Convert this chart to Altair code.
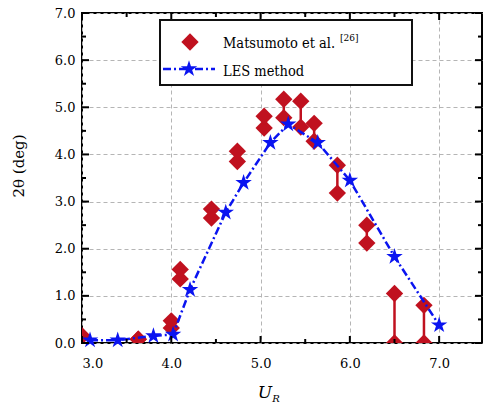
import altair as alt
import pandas as pd

# ---------------- data ----------------
# Matsumoto et al. (experiment): low / high amplitude at each reduced velocity
mat_ur = [3.0, 3.63, 4.0, 4.1, 4.45, 4.74, 5.04, 5.26, 5.45, 5.6, 5.86, 6.19, 6.5, 6.83]
mat_low = [0.15, 0.08, 0.32, 1.36, 2.65, 3.85, 4.56, 4.78, 4.58, 4.28, 3.18, 2.12, 0.0, 0.0]
mat_high = [0.15, 0.08, 0.47, 1.56, 2.84, 4.07, 4.81, 5.17, 5.13, 4.66, 3.77, 2.5, 1.05, 0.8]

# LES method
les_ur = [3.09, 3.4, 3.8, 4.02, 4.21, 4.61, 4.81, 5.11, 5.31, 5.64, 6.0, 6.5, 7.0]
les_amp = [0.06, 0.06, 0.15, 0.18, 1.13, 2.77, 3.4, 4.25, 4.64, 4.25, 3.45, 1.83, 0.38]

x_major = [3.0, 4.0, 5.0, 6.0, 7.0]
x_minor = [3.5, 4.5, 5.5, 6.5]
y_major = [0.0, 1.0, 2.0, 3.0, 4.0, 5.0, 6.0, 7.0]
y_minor = [0.5, 1.5, 2.5, 3.5, 4.5, 5.5, 6.5]

legend_mat = "Matsumoto et al."
legend_ref = "[26]"
legend_les = "LES method"
y_title = "2θ (deg)"
x_title_main = "U"
x_title_sub = "R"

# ---------------- styling ----------------
W, H = 400, 330
RED = "#C0111F"
BLUE = "#0A14F0"
FONT = "DejaVu Serif"
FONT_COND = "DejaVu Serif Condensed"
STAR = ("M0,-1L0.225,-0.309L0.951,-0.309L0.363,0.118L0.588,0.809L0,0.382"
        "L-0.588,0.809L-0.363,0.118L-0.951,-0.309L-0.225,-0.309Z")

mat_df = pd.DataFrame({"ur": mat_ur, "low": mat_low, "high": mat_high})
mat_long = pd.DataFrame({"ur": mat_ur + mat_ur, "amp": mat_low + mat_high})
les_df = pd.DataFrame({"ur": les_ur, "amp": les_amp})
one = pd.DataFrame({"k": [0]})

XS = alt.Scale(domain=[3.0, 7.48], nice=False, zero=False)
YS = alt.Scale(domain=[0.0, 7.0], nice=False, zero=False)

ax_x = alt.Axis(values=x_major, format=".1f", ticks=False, domain=False, grid=True,
                gridDash=[4, 3], gridColor="#b5b5b5", gridWidth=1,
                labelFont=FONT, labelFontSize=13, labelColor="black", labelPadding=14, title=None)
ax_y = alt.Axis(values=y_major, format=".1f", ticks=False, domain=False, grid=True,
                gridDash=[4, 3], gridColor="#b5b5b5", gridWidth=1,
                labelFont=FONT, labelFontSize=13, labelColor="black", labelPadding=7, title=None)

rules = alt.Chart(mat_df).mark_rule(color=RED, strokeWidth=2.5, clip=True).encode(
    x=alt.X("ur:Q", scale=XS, axis=ax_x),
    y=alt.Y("low:Q", scale=YS, axis=ax_y),
    y2="high:Q",
)

diamonds = alt.Chart(mat_long).mark_point(shape="diamond", filled=True, size=300, color=RED,
                                          opacity=1, clip=True).encode(
    x=alt.X("ur:Q", scale=XS),
    y=alt.Y("amp:Q", scale=YS),
)

line = alt.Chart(les_df).mark_line(color=BLUE, strokeWidth=2.5, strokeDash=[8, 3, 2, 3]).encode(
    x=alt.X("ur:Q", scale=XS),
    y=alt.Y("amp:Q", scale=YS),
)

stars = alt.Chart(les_df).mark_point(shape=STAR, filled=True, size=300, color=BLUE, opacity=1).encode(
    x=alt.X("ur:Q", scale=XS),
    y=alt.Y("amp:Q", scale=YS),
)

# ---------------- inward ticks on all four sides ----------------
def xticks(vals, p0, p1):
    return alt.Chart(pd.DataFrame({"v": vals})).mark_rule(color="black", strokeWidth=2).encode(
        x=alt.X("v:Q", scale=XS), y=alt.value(p0), y2=alt.value(p1))

def yticks(vals, p0, p1):
    return alt.Chart(pd.DataFrame({"v": vals})).mark_rule(color="black", strokeWidth=2).encode(
        y=alt.Y("v:Q", scale=YS), x=alt.value(p0), x2=alt.value(p1))

tick_layers = [
    xticks(x_major, H, H - 7), xticks(x_minor, H, H - 4),
    xticks(x_major, 0, 7), xticks(x_minor, 0, 4),
    yticks(y_major, 0, 7), yticks(y_minor, 0, 4),
    yticks(y_major, W, W - 7), yticks(y_minor, W, W - 4),
]

# ---------------- legend (drawn by hand for the superscript) ----------------
leg_box = alt.Chart(one).mark_rect(fill="white", stroke="#111111", strokeWidth=2).encode(
    x=alt.value(78), x2=alt.value(330), y=alt.value(7), y2=alt.value(72))
leg_dia = alt.Chart(one).mark_point(shape="diamond", filled=True, size=300, color=RED, opacity=1).encode(
    x=alt.value(108), y=alt.value(29))
leg_line = alt.Chart(one).mark_rule(color=BLUE, strokeWidth=2.5, strokeDash=[8, 3, 2, 3]).encode(
    x=alt.value(81), x2=alt.value(133), y=alt.value(56))
leg_star = alt.Chart(one).mark_point(shape=STAR, filled=True, size=300, color=BLUE, opacity=1).encode(
    x=alt.value(107), y=alt.value(56))
leg_t1 = alt.Chart(one).mark_text(text=legend_mat, font=FONT_COND, fontSize=14.5, align="left",
                                  baseline="alphabetic", color="black").encode(
    x=alt.value(141), y=alt.value(35))
leg_t1s = alt.Chart(one).mark_text(text=legend_ref, font=FONT_COND, fontSize=10, align="left",
                                   baseline="alphabetic", color="black").encode(
    x=alt.value(258), y=alt.value(28))
leg_t2 = alt.Chart(one).mark_text(text=legend_les, font=FONT_COND, fontSize=14.5, align="left",
                                  baseline="alphabetic", color="black").encode(
    x=alt.value(141), y=alt.value(63))

# ---------------- axis titles ----------------
ytitle = alt.Chart(one).mark_text(text=y_title, font=FONT, fontSize=15, angle=270, align="center",
                                  baseline="middle", color="black").encode(
    x=alt.value(-63), y=alt.value(153))
xt1 = alt.Chart(one).mark_text(text=x_title_main, font=FONT, fontSize=17, fontStyle="italic",
                               align="center", baseline="alphabetic", color="black").encode(
    x=alt.value(183), y=alt.value(385))
xt2 = alt.Chart(one).mark_text(text=x_title_sub, font=FONT, fontSize=10, fontStyle="italic",
                               align="center", baseline="alphabetic", color="black").encode(
    x=alt.value(194), y=alt.value(389))

chart = alt.layer(
    rules, diamonds, line, stars, *tick_layers,
    leg_box, leg_dia, leg_line, leg_star, leg_t1, leg_t1s, leg_t2,
    ytitle, xt1, xt2,
).properties(
    width=W, height=H,
    autosize=alt.AutoSizeParams(type="none"),
    padding={"left": 82, "top": 13, "right": 1, "bottom": 62},
    background="white",
).configure_view(stroke="black", strokeWidth=2)

chart.save("out.html", embed_options={"renderer": "svg", "actions": False})
